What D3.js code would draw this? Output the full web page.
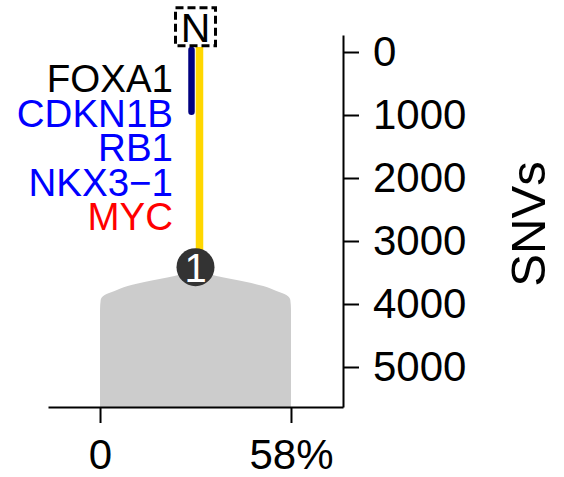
<!DOCTYPE html>
<html>
<head>
<meta charset="utf-8">
<script src="https://cdn.jsdelivr.net/npm/d3@7"></script>
<style>
  html, body { margin: 0; padding: 0; background: #fff; }
  svg { display: block; font-family: "Liberation Sans", Arial, Helvetica, sans-serif; }
</style>
</head>
<body>
<svg id="chart" width="564" height="477"></svg>
<script>
// ---------------- data ----------------
const genes = ["FOXA1", "CDKN1B", "RB1", "NKX3\u22121", "MYC"];
const geneClass = ["other", "suppressor", "suppressor", "suppressor", "oncogene"];

const yTicks = [0, 1000, 2000, 3000, 4000, 5000];
const xTicks = [0, 58];
const xTickLabels = ["0", "58%"];

// tree: root "N" and clone "1" (SNV depth)
const rootDepth = -400;
const branchStart = -80;
const clone1Depth = 3415;
const subBranchEnd = 950;      // navy branch end (SNVs)
const clonePrevalence = 58;    // % width of clone 1

// outline of clone 1 (depth in SNVs, half width in %)
const cloneDepth     = [3470, 3556, 3651, 3714, 3794, 3857, 3937, 4095, 5635];
const cloneHalfWidth = [0,    6.4,  15.5, 20.6, 24.6, 27.6, 28.8, 29,   29];

// ---------------- drawing ----------------
const svg = d3.select("#chart");

const x = d3.scaleLinear().domain([-15.8, 73.8]).range([48, 343]);
const y = d3.scaleLinear().domain([-270, 5635]).range([35, 407]);
const center = clonePrevalence / 2;

const geneColor = d3.scaleOrdinal()
  .domain(["other", "suppressor", "oncogene"])
  .range(["#000000", "#0000ff", "#ff0000"]);

// clone shape
const area = d3.area()
  .y(d => y(d[0]))
  .x0(d => x(center - d[1]))
  .x1(d => x(center + d[1]))
  .curve(d3.curveMonotoneY);
svg.append("path")
  .datum(cloneDepth.map((d, i) => [d, cloneHalfWidth[i]]))
  .attr("d", area)
  .attr("fill", "#cccccc");

// branches
const cx = x(center);
svg.append("line")
  .attr("x1", cx + 4).attr("x2", cx + 4)
  .attr("y1", y(branchStart)).attr("y2", y(clone1Depth))
  .attr("stroke", "#ffd700").attr("stroke-width", 7.5);
svg.append("line")
  .attr("x1", cx - 4).attr("x2", cx - 4)
  .attr("y1", y(branchStart) + 3).attr("y2", y(subBranchEnd))
  .attr("stroke", "#000080").attr("stroke-width", 6.5)
  .attr("stroke-linecap", "round");

// root node N
svg.append("rect")
  .attr("x", cx - 20).attr("y", y(rootDepth) - 19)
  .attr("width", 40).attr("height", 38)
  .attr("fill", "none").attr("stroke", "#000")
  .attr("stroke-width", 3).attr("stroke-dasharray", "8,4");
svg.append("text")
  .attr("x", cx).attr("y", y(rootDepth))
  .attr("dy", "0.36em")
  .attr("text-anchor", "middle")
  .attr("font-size", 41)
  .text("N");

// clone node 1
svg.append("circle")
  .attr("cx", cx).attr("cy", y(clone1Depth))
  .attr("r", 19).attr("fill", "#333333");
svg.append("text")
  .attr("x", cx).attr("y", y(clone1Depth))
  .attr("dy", "0.37em")
  .attr("text-anchor", "middle")
  .attr("font-size", 40)
  .attr("fill", "#fff")
  .text("1");

// gene labels
svg.append("g")
  .selectAll("text")
  .data(genes)
  .join("text")
  .attr("x", 173)
  .attr("y", (d, i) => 92 + i * 34.5)
  .attr("text-anchor", "end")
  .attr("font-size", 38.5)
  .attr("fill", (d, i) => geneColor(geneClass[i]))
  .text(d => d);

// y axis (right side)
const yAxis = d3.axisRight(y)
  .tickValues(yTicks)
  .tickSize(16)
  .tickSizeOuter(0)
  .tickPadding(14)
  .tickFormat(d3.format("d"));
const gy = svg.append("g")
  .attr("transform", "translate(343,0)")
  .call(yAxis);
gy.selectAll("text").attr("font-size", 42).attr("font-family", null).attr("fill", "#000");
gy.selectAll("line, path").attr("stroke", "#000").attr("stroke-width", 2);

// x axis
const xAxis = d3.axisBottom(x)
  .tickValues(xTicks)
  .tickSize(16)
  .tickSizeOuter(0)
  .tickPadding(16)
  .tickFormat((d, i) => xTickLabels[i]);
const gx = svg.append("g")
  .attr("transform", "translate(0,407)")
  .call(xAxis);
gx.selectAll("text").attr("font-size", 42).attr("font-family", null).attr("fill", "#000");
gx.selectAll("line, path").attr("stroke", "#000").attr("stroke-width", 2);

// y axis title
svg.append("text")
  .attr("transform", "translate(545,224) rotate(-90)")
  .attr("text-anchor", "middle")
  .attr("font-size", 49)
  .text("SNVs");
</script>
</body>
</html>
